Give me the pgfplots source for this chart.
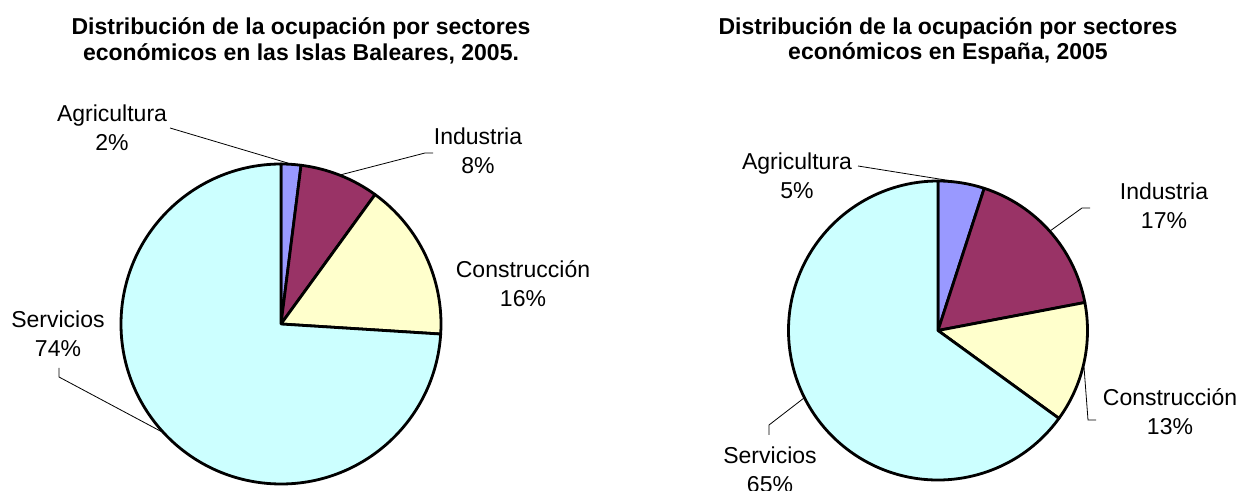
\documentclass[border=0pt]{standalone}
\usepackage{pgfplots}
\pgfplotsset{compat=1.18}
\usepackage{fontspec}
\setmainfont{Liberation Sans}
\definecolor{agri}{HTML}{9999FF}
\definecolor{indu}{HTML}{993366}
\definecolor{cons}{HTML}{FFFFCC}
\definecolor{serv}{HTML}{CCFFFF}
% slice: center x, center y (image px), start angle, end angle, radius (pt), colour
\newcommand{\slice}[6]{\filldraw[fill=#6,draw=black,line width=1.4pt,line join=round] (axis cs:#1,#2) -- ++(#3:#5) arc[start angle=#3,end angle=#4,radius=#5] -- cycle;}
\newcommand{\lbl}[3]{\node[align=center,font=\fontsize{11.5}{14.5}\selectfont,inner sep=0pt] at (axis cs:#1,#2) {#3};}
\newcommand{\ttl}[3]{\node[align=center,font=\fontsize{11.5}{12.8}\selectfont\bfseries,inner sep=0pt] at (axis cs:#1,#2) {#3};}
\begin{document}
\begin{tikzpicture}
\path[use as bounding box,clip] (0,0) rectangle (621pt,245.5pt);
\begin{axis}[at={(0,0)},anchor=south west,x=0.5pt,y=0.5pt,
  xmin=0,xmax=1242,ymin=0,ymax=491,y dir=reverse,
  enlargelimits=false,hide axis,clip=false]
% Islas Baleares 2005: Agricultura 2, Industria 8, Construccion 16, Servicios 74 (%)
\slice{281}{324}{90}{90-3.6*2}{80pt}{agri}
\slice{281}{324}{90-3.6*2}{90-3.6*10}{80pt}{indu}
\slice{281}{324}{90-3.6*10}{90-3.6*26}{80pt}{cons}
\slice{281}{324}{90-3.6*26}{90-3.6*100}{80pt}{serv}
% Espana 2005: Agricultura 5, Industria 17, Construccion 13, Servicios 65 (%)
\slice{938}{330.5}{90}{90-3.6*5}{74.75pt}{agri}
\slice{938}{330.5}{90-3.6*5}{90-3.6*22}{74.75pt}{indu}
\slice{938}{330.5}{90-3.6*22}{90-3.6*35}{74.75pt}{cons}
\slice{938}{330.5}{90-3.6*35}{90-3.6*100}{74.75pt}{serv}
% leader lines
\draw[line width=0.4pt] (axis cs:170,128) -- (axis cs:291,164);
\draw[line width=0.4pt] (axis cs:433,153) -- (axis cs:425,153) -- (axis cs:340,175);
\draw[line width=0.4pt] (axis cs:59,368) -- (axis cs:59,377) -- (axis cs:164,433);
\draw[line width=0.4pt] (axis cs:858,166) -- (axis cs:958,182);
\draw[line width=0.4pt] (axis cs:1090,208) -- (axis cs:1082,208) -- (axis cs:1050,231);
\draw[line width=0.4pt] (axis cs:1084,367) -- (axis cs:1088,420) -- (axis cs:1096,420);
\draw[line width=0.4pt] (axis cs:804,398) -- (axis cs:769,425) -- (axis cs:769,435);
% labels
\lbl{112}{128}{Agricultura\\2\%}
\lbl{478}{151}{Industria\\8\%}
\lbl{523}{284}{Construcción\\16\%}
\lbl{58}{334}{Servicios\\74\%}
\lbl{797}{176}{Agricultura\\5\%}
\lbl{1164}{206}{Industria\\17\%}
\lbl{1170}{412}{Construcción\\13\%}
\lbl{770}{470}{Servicios\\65\%}
% titles
\ttl{301}{41}{Distribución de la ocupación por sectores\\económicos en las Islas Baleares, 2005.}
\ttl{948}{41}{Distribución de la ocupación por sectores\\económicos en España, 2005}
\end{axis}
\end{tikzpicture}
\end{document}
